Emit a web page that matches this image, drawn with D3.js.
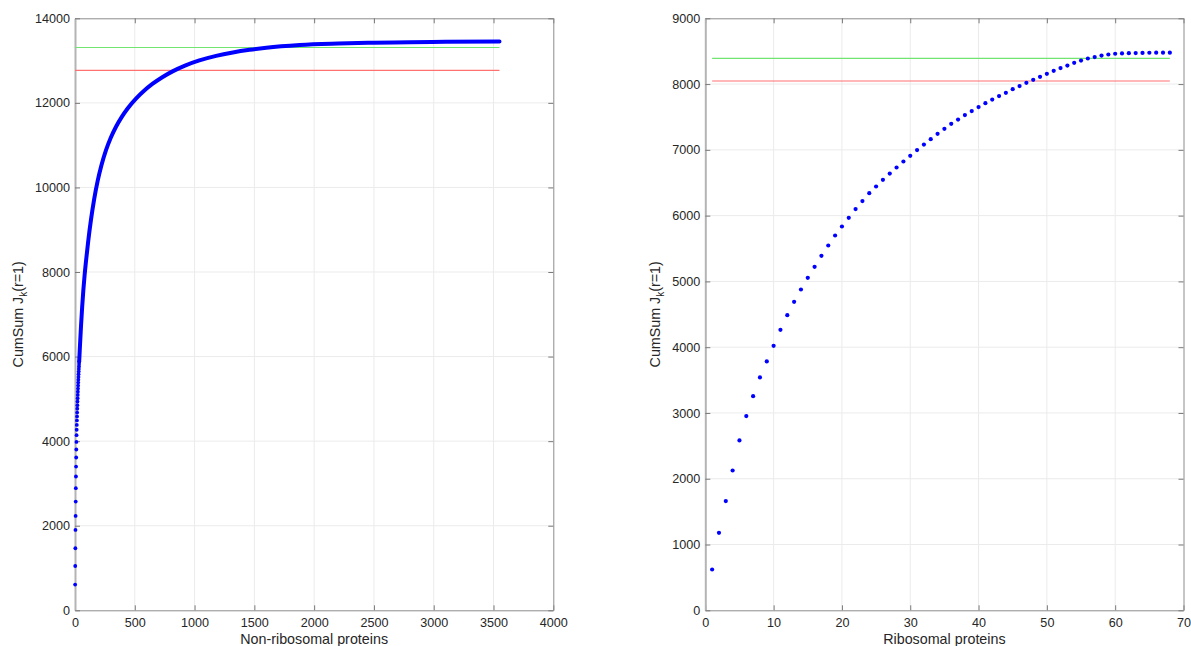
<!DOCTYPE html>
<html><head><meta charset="utf-8">
<script src="https://cdn.jsdelivr.net/npm/d3@7"></script>
<style>
body{margin:0;background:#fff}
svg{display:block}
text{font-family:"Liberation Sans",Arial,Helvetica,sans-serif;fill:#262626}
</style>
</head><body>
<svg id="c" width="1191" height="646"></svg>
<script>
// ---------- data ----------
const leftXTicks = [0,500,1000,1500,2000,2500,3000,3500,4000];
const leftYTicks = [0,2000,4000,6000,8000,10000,12000,14000];
const rightXTicks = [0,10,20,30,40,50,60,70];
const rightYTicks = [0,1000,2000,3000,4000,5000,6000,7000,8000,9000];

// Non-ribosomal: first proteins (k = 1..35), visible as separate dots
const leftDotValues = [608,1048,1467,1900,2231,2572,2887,3164,3400,3613,
  3803,3983,4141,4270,4385,4490,4585,4677,4766,4852,
  4935,5015,5093,5169,5243,5315,5385,5453,5519,5583,
  5645,5706,5766,5825,5883];
// Non-ribosomal: dense part read as samples (k, cumulative value)
const leftCurveK = [35,40,50,60,70,80,92,110,134,160,190,220,260,300,343,390,440,510,580,650,730,820,920,1040,1180,1320,1460,1600,1880,2200,2500,2800,3100,3550];
const leftCurveV = [5883,6171,6711,7176,7576,7916,8258,8717,9245,9719,10161,10513,10887,11181,11435,11663,11866,12100,12292,12453,12607,12751,12881,13003,13111,13192,13255,13305,13368,13402,13422,13435,13443,13449];
const leftLastK = 3550;
const leftGreen = 13310;
const leftRed = 12770;

// Ribosomal proteins k = 1..68
const rightValues = [620,1178,1660,2125,2582,2952,3256,3540,3783,4021,
  4264,4487,4690,4877,5055,5222,5389,5546,5698,5835,
  5967,6099,6221,6342,6443,6545,6640,6732,6823,6910,
  6996,7081,7163,7244,7320,7396,7461,7528,7589,7650,
  7710,7765,7817,7867,7923,7969,8019,8065,8110,8156,
  8202,8243,8282,8323,8358,8389,8410,8434,8450,8461,
  8466,8470,8472,8474,8476,8477,8478,8478];
const rightGreen = 8392;
const rightRed = 8047;

const xLabels = ["Non-ribosomal proteins", "Ribosomal proteins"];

// ---------- drawing ----------
const svg = d3.select("#c");
const TOP = 18.3, BOTTOM = 610.3;

function panel(o){
  const x = d3.scaleLinear().domain([o.xTicks[0], o.xTicks[o.xTicks.length-1]]).range([o.x0, o.x1]);
  const y = d3.scaleLinear().domain([o.yTicks[0], o.yTicks[o.yTicks.length-1]]).range([BOTTOM, TOP]);
  const g = svg.append("g");
  // grid
  g.append("g").selectAll("line").data(o.xTicks.slice(1,-1)).join("line")
    .attr("x1", d=>x(d)).attr("x2", d=>x(d)).attr("y1", TOP).attr("y2", BOTTOM)
    .attr("stroke", "#ebebeb").attr("stroke-width", 1);
  g.append("g").selectAll("line").data(o.yTicks.slice(1,-1)).join("line")
    .attr("y1", d=>y(d)).attr("y2", d=>y(d)).attr("x1", o.x0).attr("x2", o.x1)
    .attr("stroke", "#ebebeb").attr("stroke-width", 1);
  // axes
  const ax = (gen, tr) => {
    const a = g.append("g").attr("transform", tr).call(gen);
    a.selectAll("path.domain").attr("stroke", "#8c8c8c");
    a.selectAll(".tick line").attr("stroke", "#7a7a7a");
    a.selectAll("text").attr("font-size", "12.6px").attr("fill", "#262626")
      .attr("font-family", '"Liberation Sans",Arial,Helvetica,sans-serif');
    return a;
  };
  ax(d3.axisBottom(x).tickValues(o.xTicks).tickSize(-5).tickSizeOuter(0).tickPadding(8).tickFormat(d3.format("d")), `translate(0,${BOTTOM})`);
  ax(d3.axisTop(x).tickValues(o.xTicks).tickSize(-5).tickSizeOuter(0).tickFormat(""), `translate(0,${TOP})`);
  ax(d3.axisRight(y).tickValues(o.yTicks).tickSize(-5).tickSizeOuter(0).tickFormat(""), `translate(${o.x1},0)`);
  const la = ax(d3.axisLeft(y).tickValues(o.yTicks).tickSize(-5).tickSizeOuter(0).tickPadding(5).tickFormat(d3.format("d")), `translate(${o.x0},0)`);
  la.select("path.domain").attr("stroke", "#b4b4b4").attr("stroke-width", 2);
  // labels
  g.append("text").attr("x", (o.x0+o.x1)/2).attr("y", 644).attr("text-anchor", "middle")
    .attr("font-size", "14.3px").text(o.xLabel);
  const yl = g.append("text").attr("transform", `translate(${o.ylx},${(TOP+BOTTOM)/2}) rotate(-90)`)
    .attr("text-anchor", "middle").attr("font-size", "14.3px");
  yl.append("tspan").text("CumSum J");
  yl.append("tspan").attr("font-size", "10px").attr("dy", 4).text("k");
  yl.append("tspan").attr("dy", -4).text("(r=1)");
  // reference lines
  g.append("line").attr("x1", x(1)).attr("x2", x(o.lastK)).attr("y1", y(o.green)).attr("y2", y(o.green))
    .attr("stroke", "#72e472").attr("stroke-width", 1.2);
  g.append("line").attr("x1", x(1)).attr("x2", x(o.lastK)).attr("y1", y(o.red)).attr("y2", y(o.red))
    .attr("stroke", "#ff7070").attr("stroke-width", 1.2);
  return {g, x, y};
}

// left panel
const L = panel({x0:75, x1:553.3, xTicks:leftXTicks, yTicks:leftYTicks, xLabel:xLabels[0], ylx:23,
  green:leftGreen, red:leftRed, lastK:leftLastK});
const curve = leftCurveK.map((k,i)=>[k, leftCurveV[i]]);
L.g.append("path").datum(curve)
  .attr("d", d3.line().x(d=>L.x(d[0])).y(d=>L.y(d[1])).curve(d3.curveMonotoneX))
  .attr("fill", "none").attr("stroke", "#0000ff").attr("stroke-width", 4).attr("stroke-linecap", "round").attr("stroke-linejoin", "round");
L.g.append("g").selectAll("circle").data(leftDotValues).join("circle")
  .attr("cx", (d,i)=>L.x(i+1)).attr("cy", d=>L.y(d)).attr("r", 1.9).attr("fill", "#0000ff");

// right panel
const R = panel({x0:705.3, x1:1183.5, xTicks:rightXTicks, yTicks:rightYTicks, xLabel:xLabels[1], ylx:660,
  green:rightGreen, red:rightRed, lastK:rightValues.length});
R.g.append("g").selectAll("circle").data(rightValues).join("circle")
  .attr("cx", (d,i)=>R.x(i+1)).attr("cy", d=>R.y(d)).attr("r", 2.1).attr("fill", "#0000ff");
</script>
</body></html>
